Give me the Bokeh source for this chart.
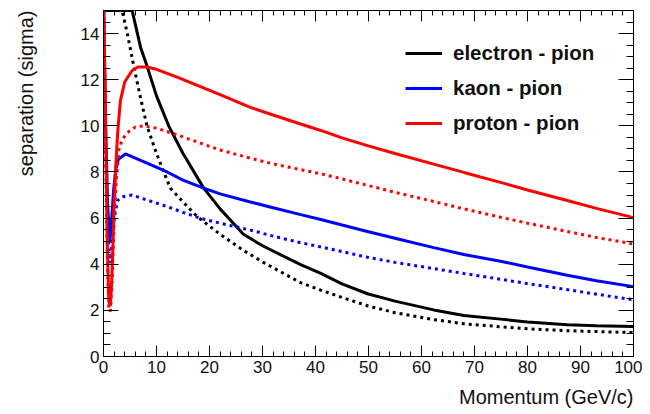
import numpy as np
from bokeh.plotting import figure
from bokeh.models import (Range1d, LinearAxis, SingleIntervalTicker, Legend, LegendItem,
                          CustomJSTickFormatter, Title)
from bokeh.embed import file_html
from bokeh.resources import INLINE

# ---- data ----
e_solid_x = [0, 1, 2, 3, 4, 5, 5.4, 6, 7, 8.2, 10, 12.3, 15, 18.9, 22, 26.4, 30, 37.2, 41, 45, 49.8, 55, 62.3, 68, 74.9, 80, 87.5, 93, 100]
e_solid_y = [15, 15, 15, 15, 15, 15, 15, 14.4, 13.4, 12.6, 11.3, 10.0, 8.8, 7.3, 6.4, 5.3, 4.8, 3.98, 3.6, 3.15, 2.72, 2.4, 2.02, 1.78, 1.62, 1.5, 1.38, 1.33, 1.3]

e_dot_x = [0, 1, 2, 3, 3.5, 4.5, 5.7, 7, 8.2, 10, 12.6, 15, 17.7, 22, 26.4, 30, 37.2, 41, 45, 49.8, 55, 62.3, 68, 74.9, 80, 87.5, 93, 100]
e_dot_y = [15, 15, 15, 15, 15, 14.0, 12.6, 11.2, 10.0, 8.8, 7.3, 6.7, 6.06, 5.3, 4.6, 4.1, 3.2, 2.88, 2.56, 2.2, 1.9, 1.6, 1.42, 1.29, 1.2, 1.12, 1.08, 1.04]

p_solid_x = [0.05, 0.4, 0.7, 1.0, 1.3, 1.6, 2.0, 2.3, 2.7, 3.2, 4, 5.4, 6.5, 8.2, 10, 14, 18.3, 22, 27.7, 32, 37.2, 41, 45, 49.8, 55, 62.3, 68, 74.9, 80, 87.5, 93, 100]
p_solid_y = [15, 10, 5, 2.4, 2.2, 3.5, 6.5, 8.2, 9.8, 11.1, 11.9, 12.4, 12.55, 12.55, 12.45, 12.1, 11.7, 11.35, 10.8, 10.47, 10.08, 9.8, 9.48, 9.14, 8.8, 8.34, 7.98, 7.55, 7.22, 6.76, 6.42, 6.02]

p_dot_x = [0.05, 0.4, 0.7, 1.0, 1.3, 1.6, 2.0, 2.4, 2.9, 3.5, 4.5, 6, 7.6, 10, 14, 18.3, 22, 27.7, 32, 37.2, 41, 45, 49.8, 55, 62.3, 68, 74.9, 80, 87.5, 93, 100]
p_dot_y = [15, 9, 4.5, 2.1, 1.95, 3.2, 5.8, 7.6, 8.96, 9.4, 9.7, 9.95, 10.0, 9.9, 9.6, 9.25, 8.95, 8.6, 8.35, 8.1, 7.92, 7.7, 7.42, 7.12, 6.72, 6.4, 6.04, 5.78, 5.42, 5.16, 4.88]

k_solid_x = [0.05, 0.4, 0.8, 1.2, 1.5, 1.9, 2.3, 2.8, 4.15, 6, 8, 12, 15, 18.9, 22, 27.7, 32, 37.2, 41, 45, 49.8, 55, 62.3, 68, 74.9, 80, 87.5, 93, 100]
k_solid_y = [15, 10, 6.5, 4.95, 5.8, 7.2, 8.1, 8.55, 8.78, 8.6, 8.4, 8.0, 7.65, 7.3, 7.05, 6.7, 6.45, 6.15, 5.94, 5.7, 5.42, 5.13, 4.72, 4.42, 4.13, 3.88, 3.52, 3.28, 3.03]

k_dot_x = [0.05, 0.4, 0.8, 1.2, 1.5, 1.9, 2.6, 3.5, 5.4, 8, 12, 15, 18.3, 22, 27.7, 32, 37.2, 41, 45, 49.8, 55, 62.3, 68, 74.9, 80, 87.5, 93, 100]
k_dot_y = [15, 9, 5.5, 4.05, 4.6, 5.8, 6.75, 6.92, 7.0, 6.8, 6.5, 6.25, 5.99, 5.78, 5.48, 5.22, 4.93, 4.75, 4.55, 4.3, 4.08, 3.81, 3.6, 3.35, 3.16, 2.9, 2.7, 2.46]

legend_labels = ["electron - pion", "kaon - pion", "proton - pion"]
x_title = "Momentum (GeV/c)"
y_title = "separation (sigma)"

FONT = "Liberation Sans"

p = figure(width=642, height=412, output_backend="svg", toolbar_location=None,
           x_range=Range1d(0, 100), y_range=Range1d(0, 15),
           min_border_left=103, min_border_right=9, min_border_top=10, min_border_bottom=56,
           x_axis_location=None, y_axis_location=None)
p.grid.visible = False
p.outline_line_color = "black"
p.outline_line_width = 1
p.background_fill_color = "white"
p.border_fill_color = "white"

xt = SingleIntervalTicker(interval=10, num_minor_ticks=5)
yt = SingleIntervalTicker(interval=2, num_minor_ticks=4)

def make_axis(ticker, show_labels, major_len, minor_len):
    ax = LinearAxis(ticker=ticker)
    ax.axis_line_color = "black"
    ax.major_tick_line_color = "black"
    ax.minor_tick_line_color = "black"
    ax.major_tick_in = major_len
    ax.major_tick_out = 0
    ax.minor_tick_in = minor_len
    ax.minor_tick_out = 0
    if show_labels:
        ax.major_label_text_font = FONT
        ax.major_label_text_font_size = "17px"
        ax.major_label_text_color = "#111111"
        ax.major_label_standoff = 4
    else:
        ax.formatter = CustomJSTickFormatter(code="return ''")
        ax.major_label_standoff = 0
    return ax

p.add_layout(make_axis(xt, True, 11, 5), "below")
p.add_layout(make_axis(yt, True, 15, 7), "left")
p.add_layout(make_axis(xt, False, 11, 5), "above")
p.add_layout(make_axis(yt, False, 15, 7), "right")

# spacers (blank) that push the axis titles outward
p.add_layout(Title(text=" ", text_font_size="1px", standoff=5), "below")
p.add_layout(Title(text=" ", text_font_size="1px", standoff=38), "left")

xtitle = Title(text=x_title, align="right", vertical_align="bottom", standoff=0,
               text_font=FONT, text_font_size="20px", text_font_style="normal",
               text_color="#111111")
ytitle = Title(text=y_title, align="right", vertical_align="bottom", standoff=0,
               text_font=FONT, text_font_size="20px", text_font_style="normal",
               text_color="#111111")
p.add_layout(xtitle, "below")
p.add_layout(ytitle, "left")

W = 3
r_e = p.line(e_solid_x, e_solid_y, line_color="black", line_width=W)
p.line(e_dot_x, e_dot_y, line_color="black", line_width=W, line_dash="3 4")
r_k = p.line(k_solid_x, k_solid_y, line_color="#0000ff", line_width=W)
p.line(k_dot_x, k_dot_y, line_color="#0000ff", line_width=W, line_dash="3 4")
r_p = p.line(p_solid_x, p_solid_y, line_color="#ff0000", line_width=W)
p.line(p_dot_x, p_dot_y, line_color="#ff0000", line_width=W, line_dash="3 4")

legend = Legend(items=[LegendItem(label=legend_labels[0], renderers=[r_e]),
                       LegendItem(label=legend_labels[1], renderers=[r_k]),
                       LegendItem(label=legend_labels[2], renderers=[r_p])],
                location=(302, 218))
legend.label_text_font = FONT
legend.label_text_font_size = "20.5px"
legend.label_text_font_style = "bold"
legend.label_text_color = "#111111"
legend.glyph_width = 37
legend.glyph_height = 30
legend.spacing = 5
legend.padding = 0
legend.margin = 0
legend.label_standoff = 11
legend.border_line_alpha = 0
legend.background_fill_alpha = 0
p.add_layout(legend, "center")

open("out.html", "w").write(file_html(p, INLINE))
